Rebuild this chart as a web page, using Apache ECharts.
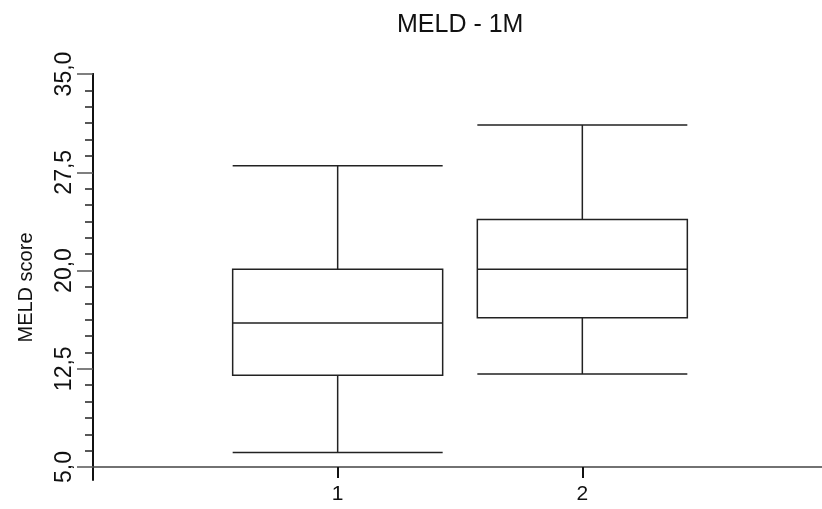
<!DOCTYPE html>
<html>
<head>
<meta charset="utf-8">
<script src="https://cdn.jsdelivr.net/npm/echarts@6/dist/echarts.min.js"></script>
<style>html,body{margin:0;padding:0;background:#fff}#c{width:822px;height:509px}</style>
</head>
<body>
<div id="c"></div>
<script>
const categories = ['1', '2'];
const lowWhisker = [6.1, 12.1];
const q1 = [12.0, 16.4];
const median = [16.0, 20.1];
const q3 = [20.1, 23.9];
const highWhisker = [28.0, 31.1];
const yTicks = [5, 12.5, 20, 27.5, 35];

const axisCats = ['0'].concat(categories, ['3']);
const boxData = categories.map((c, i) => [c, lowWhisker[i], q1[i], median[i], q3[i], highWhisker[i]]);
const FONT = 'Liberation Sans, Arial, sans-serif';

const chart = echarts.init(document.getElementById('c'), null, {renderer: 'canvas'});
chart.setOption({
  animation: false,
  backgroundColor: '#fff',
  title: {
    text: 'MELD - 1M',
    left: 392, top: 8,
    textStyle: {fontFamily: FONT, fontSize: 25, fontWeight: 'normal', color: '#111'}
  },
  grid: [
    {left: 93, width: 734, top: 74, bottom: 42, outerBoundsMode: 'none', containLabel: false},
    {left: 93, width: 734, top: 74, bottom: 29, outerBoundsMode: 'none', containLabel: false}
  ],
  xAxis: [{
    type: 'category', data: axisCats, boundaryGap: false, gridIndex: 0,
    axisLine: {lineStyle: {color: '#444', width: 1.5}},
    axisTick: {show: true, length: 11, interval: (i) => i > 0 && i <= categories.length, lineStyle: {color: '#111', width: 2}},
    axisLabel: {interval: 0, margin: 17, fontFamily: FONT, fontSize: 21, color: '#111',
      formatter: (v, i) => (i > 0 && i <= categories.length) ? v : ''},
    splitLine: {show: false}
  }, {
    type: 'category', data: axisCats, boundaryGap: false, gridIndex: 1, show: false
  }],
  yAxis: [{
    type: 'value', min: yTicks[0], max: yTicks[yTicks.length - 1], interval: yTicks[1] - yTicks[0], gridIndex: 0,
    name: 'MELD score', nameLocation: 'middle', nameGap: 57, nameRotate: 90,
    nameTextStyle: {fontFamily: FONT, fontSize: 20, color: '#111', padding: [0, 34, 0, 0]},
    axisLine: {show: true, lineStyle: {color: '#111', width: 2}},
    axisTick: {show: true, length: 16, lineStyle: {color: '#555', width: 1.5}},
    minorTick: {show: true, splitNumber: 6, length: 8, lineStyle: {color: '#222', width: 1.5}},
    axisLabel: {rotate: 90, margin: 17, fontFamily: FONT, fontSize: 23, color: '#111',
      formatter: (v) => v.toFixed(1).replace('.', ',')},
    splitLine: {show: false}
  }, {
    type: 'value', gridIndex: 1,
    axisLine: {show: true, lineStyle: {color: '#111', width: 2}},
    axisTick: {show: false}, axisLabel: {show: false}, splitLine: {show: false}
  }],
  series: [{
    type: 'boxplot',
    xAxisIndex: 0, yAxisIndex: 0,
    data: boxData,
    encode: {x: 0, y: [1, 2, 3, 4, 5]},
    boxWidth: [210, 210],
    itemStyle: {color: '#fff', borderColor: '#222', borderWidth: 1.5},
    emphasis: {disabled: true}
  }]
});
</script>
</body>
</html>
